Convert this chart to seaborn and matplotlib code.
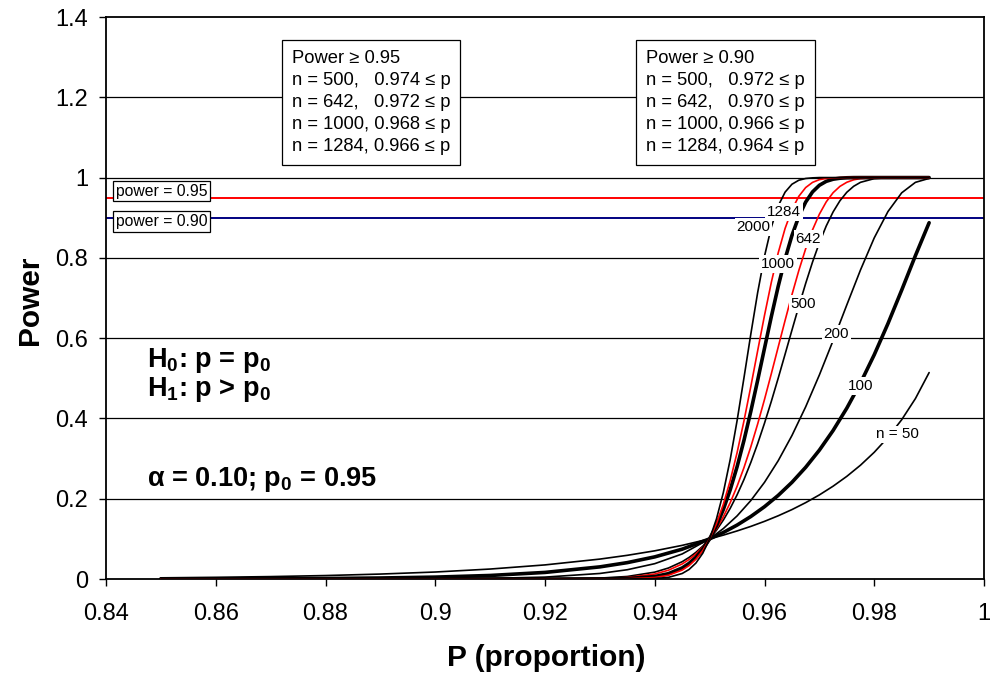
import numpy as np
import pandas as pd
import matplotlib
matplotlib.use("Agg")
import matplotlib.pyplot as plt
import seaborn as sns
from matplotlib.ticker import FuncFormatter

# ---------------- data ----------------
p_grid = [0.85, 0.86, 0.87, 0.88, 0.89, 0.90, 0.91, 0.92, 0.93, 0.935, 0.94, 0.945,
          0.95, 0.9525, 0.955, 0.9575, 0.96, 0.9625, 0.965, 0.9675, 0.97, 0.9725,
          0.975, 0.9775, 0.98, 0.9825, 0.985, 0.9875, 0.99]

power_50 = [0.0029, 0.0042, 0.0060, 0.0086, 0.0123, 0.0174, 0.0248, 0.0351, 0.0496, 0.0590,
            0.0702, 0.0838, 0.1000, 0.1093, 0.1197, 0.1310, 0.1436, 0.1575, 0.1729, 0.1902,
            0.2095, 0.2312, 0.2557, 0.2836, 0.3157, 0.3529, 0.3968, 0.4494, 0.5142]
power_100 = [0.0002, 0.0003, 0.0007, 0.0013, 0.0025, 0.0047, 0.0088, 0.0164, 0.0302, 0.0408,
             0.0551, 0.0743, 0.1000, 0.1159, 0.1343, 0.1556, 0.1801, 0.2083, 0.2408, 0.2782,
             0.3210, 0.3699, 0.4256, 0.4884, 0.5587, 0.6363, 0.7196, 0.8055, 0.8875]
power_200 = [0.0000, 0.0000, 0.0000, 0.0000, 0.0002, 0.0005, 0.0016, 0.0047, 0.0138, 0.0231,
             0.0382, 0.0624, 0.1000, 0.1257, 0.1571, 0.1953, 0.2408, 0.2947, 0.3574, 0.4288,
             0.5083, 0.5940, 0.6828, 0.7701, 0.8498, 0.9154, 0.9620, 0.9881, 0.9980]
power_500 = [0.0, 0.0, 0.0, 0.0, 0.0, 0.0, 0.0, 0.0002, 0.0022, 0.0063,
             0.0171, 0.0431, 0.1000, 0.1468, 0.2095, 0.2901, 0.3881, 0.5004, 0.6199, 0.7362,
             0.8375, 0.9144, 0.9634, 0.9882, 0.9974, 0.9997, 1.0, 1.0, 1.0]
power_642 = [0.0, 0.0, 0.0, 0.0, 0.0, 0.0, 0.0, 0.0001, 0.0010, 0.0037,
             0.0124, 0.0375, 0.1000, 0.1550, 0.2308, 0.3290, 0.4473, 0.5780, 0.7082, 0.8226,
             0.9088, 0.9623, 0.9883, 0.9976, 0.9997, 1.0, 1.0, 1.0, 1.0]
power_1000 = [0.0, 0.0, 0.0, 0.0, 0.0, 0.0, 0.0, 0.0, 0.0002, 0.0011,
              0.0061, 0.0275, 0.1000, 0.1732, 0.2794, 0.4173, 0.5747, 0.7292, 0.8557, 0.9389,
              0.9808, 0.9959, 0.9995, 1.0, 1.0, 1.0, 1.0, 1.0, 1.0]
power_1284 = [0.0, 0.0, 0.0, 0.0, 0.0, 0.0, 0.0, 0.0, 0.0, 0.0005,
              0.0036, 0.0222, 0.1000, 0.1862, 0.3145, 0.4791, 0.6566, 0.8126, 0.9200, 0.9751,
              0.9948, 0.9994, 1.0, 1.0, 1.0, 1.0, 1.0, 1.0, 1.0]
power_2000 = [0.0, 0.0, 0.0, 0.0, 0.0, 0.0, 0.0, 0.0, 0.0, 0.0001,
              0.0011, 0.0137, 0.1000, 0.2155, 0.3941, 0.6095, 0.8042, 0.9295, 0.9834, 0.9977,
              1.0, 1.0, 1.0, 1.0, 1.0, 1.0, 1.0, 1.0, 1.0]

# extra readings in the steep region for the large-n curves
p_fine = [0.9425, 0.94625, 0.9475, 0.94875, 0.95125, 0.95375, 0.95625, 0.95875,
          0.96125, 0.96375, 0.96625, 0.96875, 0.97125, 0.97375, 0.97625]
fine_500 = [0.0274, 0.0537, 0.0664, 0.0818, 0.1216, 0.1760, 0.2475, 0.3370,
            0.4428, 0.5599, 0.6792, 0.7894, 0.8794, 0.9423, 0.9783]
fine_642 = [0.0219, 0.0485, 0.0622, 0.0792, 0.1251, 0.1901, 0.2771, 0.3860,
            0.5118, 0.6441, 0.7683, 0.8697, 0.9395, 0.9781, 0.9944]
fine_1000 = [0.0133, 0.0388, 0.0540, 0.0741, 0.1328, 0.2221, 0.3448, 0.4948,
             0.6540, 0.7973, 0.9030, 0.9643, 0.9906, 0.9984, 0.9999]
fine_1284 = [0.0093, 0.0333, 0.0491, 0.0708, 0.1381, 0.2451, 0.3933, 0.5683,
             0.7394, 0.8732, 0.9533, 0.9880, 0.9980, 0.9998, 1.0]
fine_2000 = [0.0041, 0.0237, 0.0397, 0.0642, 0.1498, 0.2976, 0.5004, 0.7133,
             0.8769, 0.9637, 0.9934, 0.9993, 1.0, 1.0, 1.0]

sample_sizes = [50, 100, 200, 500, 642, 1000, 1284, 2000]
curve_labels = ["n = 50", "100", "200", "500", "642", "1000", "1284", "2000"]
label_pos_p = [0.9842, 0.9776, 0.9731, 0.9671, 0.9680, 0.9625, 0.9635, 0.9580]
label_pos_power = [0.360, 0.480, 0.610, 0.685, 0.8475, 0.785, 0.915, 0.8775]

ref_levels = [0.95, 0.90]
ref_labels = ["power = 0.95", "power = 0.90"]

box95_lines = ["Power \u2265 0.95", "n = 500,   0.974 \u2264 p", "n = 642,   0.972 \u2264 p",
               "n = 1000, 0.968 \u2264 p", "n = 1284, 0.966 \u2264 p"]
box90_lines = ["Power \u2265 0.90", "n = 500,   0.972 \u2264 p", "n = 642,   0.970 \u2264 p",
               "n = 1000, 0.966 \u2264 p", "n = 1284, 0.964 \u2264 p"]

x_ticks = [0.84, 0.86, 0.88, 0.90, 0.92, 0.94, 0.96, 0.98, 1.00]
y_ticks = [0, 0.2, 0.4, 0.6, 0.8, 1.0, 1.2, 1.4]

# ---------------- build table ----------------
main_sets = {50: power_50, 100: power_100, 200: power_200, 500: power_500,
             642: power_642, 1000: power_1000, 1284: power_1284, 2000: power_2000}
fine_sets = {500: fine_500, 642: fine_642, 1000: fine_1000, 1284: fine_1284, 2000: fine_2000}
rows = []
for n in sample_sizes:
    for p, v in zip(p_grid, main_sets[n]):
        rows.append((n, p, v))
    if n in fine_sets:
        for p, v in zip(p_fine, fine_sets[n]):
            rows.append((n, p, v))
df = pd.DataFrame(rows, columns=["n", "p", "power"]).sort_values(["n", "p"])

styles = {50: ("black", 1.2), 100: ("black", 2.6), 200: ("black", 1.2), 500: ("black", 1.2),
          642: ("#ff0000", 1.2), 1000: ("black", 2.6), 1284: ("#ff0000", 1.2), 2000: ("black", 1.2)}

# ---------------- plot ----------------
sns.set_theme(style="white")
plt.rcParams['font.family'] = ['Liberation Sans', 'DejaVu Sans']
plt.rcParams['mathtext.fontset'] = 'custom'
plt.rcParams['mathtext.rm'] = 'Liberation Sans'
plt.rcParams['mathtext.bf'] = 'Liberation Sans:bold'
plt.rcParams['text.color'] = 'black'
plt.rcParams['axes.labelcolor'] = 'black'
plt.rcParams['xtick.color'] = 'black'
plt.rcParams['ytick.color'] = 'black'

fig = plt.figure(figsize=(9.9, 6.77), dpi=100)
ax = fig.add_axes([106 / 990, 1 - 579 / 677, 878 / 990, 562 / 677])

ax.set_xlim(0.84, 1.0)
ax.set_ylim(0, 1.4)

for yv in y_ticks[1:-1]:
    ax.axhline(yv, color="black", lw=0.9, zorder=1)

ax.axhline(ref_levels[0], color="#ff0000", lw=1.4, zorder=2)
ax.axhline(ref_levels[1], color="#000080", lw=1.4, zorder=2)

for n in sample_sizes:
    c, lw = styles[n]
    sub = df[df["n"] == n]
    sns.lineplot(data=sub, x="p", y="power", ax=ax, color=c, linewidth=lw,
                 estimator=None, sort=True, zorder=3)

for lab, px, py in zip(curve_labels, label_pos_p, label_pos_power):
    ax.text(px, py, lab, fontsize=11, color="black", ha="center", va="center", zorder=5,
            bbox=dict(boxstyle="square,pad=0.12", fc="white", ec="none"))

ref_y = [0.9665, 0.891]
for lab, yy in zip(ref_labels, ref_y):
    ax.text(0.8418, yy, lab, fontsize=11.3, color="black", ha="left", va="center", zorder=6,
            bbox=dict(boxstyle="square,pad=0.18", fc="white", ec="black", lw=0.9))

for xx, lines in zip([0.87382, 0.93836], [box95_lines, box90_lines]):
    ax.text(xx, 1.3175, "\n".join(lines), fontsize=13.2, color="black", ha="left", va="top",
            linespacing=1.38, zorder=6,
            bbox=dict(boxstyle="square,pad=0.55", fc="white", ec="black", lw=0.9))

hyp_kw = dict(fontsize=19.5, fontweight="bold", color="black", ha="left", va="baseline", zorder=6)
ax.text(0.8474, 0.5275, r"H$_{\mathbf{0}}$: p = p$_{\mathbf{0}}$", **hyp_kw)
ax.text(0.8474, 0.455, r"H$_{\mathbf{1}}$: p > p$_{\mathbf{0}}$", **hyp_kw)
ax.text(0.8474, 0.2325, "\u03b1 = 0.10; p$_{\\mathbf{0}}$ = 0.95", **hyp_kw)

ax.set_xticks(x_ticks)
ax.set_yticks(y_ticks)
fmt = FuncFormatter(lambda v, pos: "%g" % round(v, 2))
ax.xaxis.set_major_formatter(fmt)
ax.yaxis.set_major_formatter(fmt)
ax.tick_params(axis="both", which="major", direction="out", length=5, width=1,
               color="black", labelsize=17, labelcolor="black")
ax.tick_params(axis="x", pad=12)
ax.tick_params(axis="y", pad=8)
ax.xaxis.set_ticks_position("bottom")
ax.yaxis.set_ticks_position("left")

for side in ["left", "bottom", "top", "right"]:
    ax.spines[side].set_visible(True)
    ax.spines[side].set_color("black")
    ax.spines[side].set_linewidth(1.3)

ax.set_xlabel("")
ax.set_ylabel("")
fig.text(546 / 990, 1 - 658 / 677, "P (proportion)", fontsize=21.5, fontweight="bold",
         color="black", ha="center", va="center")
fig.text(30 / 990, 1 - 300 / 677, "Power", fontsize=21.5, fontweight="bold",
         color="black", ha="center", va="center", rotation=90)

fig.savefig("out.png", dpi=100, facecolor="white")
